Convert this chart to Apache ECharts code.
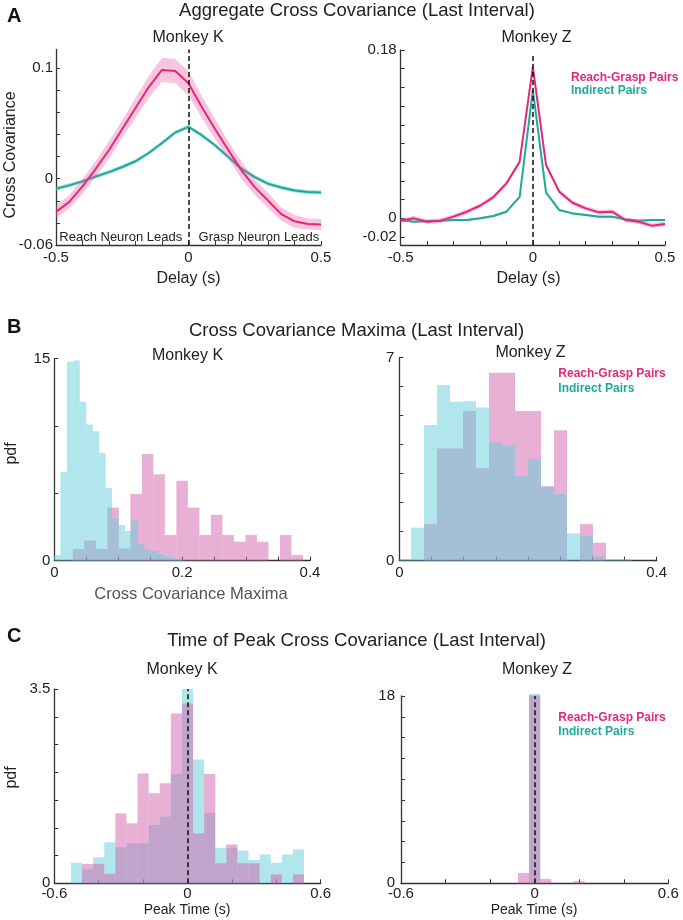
<!DOCTYPE html>
<html><head><meta charset="utf-8">
<script src="https://cdn.jsdelivr.net/npm/echarts@6/dist/echarts.min.js"></script>
<style>html,body{margin:0;padding:0;background:#fff}#c{width:683px;height:920px}</style>
</head><body><div id="c"></div><script>
// ---------- DATA ----------
// Panel A: aggregate cross covariance vs delay (s)
const delay = [-0.5,-0.45,-0.4,-0.35,-0.3,-0.25,-0.2,-0.15,-0.1,-0.05,0,0.05,0.1,0.15,0.2,0.25,0.3,0.35,0.4,0.45,0.5];
const kReachGrasp = [-0.030,-0.021,-0.007,0.009,0.026,0.045,0.064,0.083,0.0985,0.0975,0.0864,0.065,0.045,0.026,0.0076,-0.0076,-0.0197,-0.032,-0.0385,-0.041,-0.0415];
const kReachGraspErr = [0.006,0.006,0.007,0.007,0.008,0.008,0.009,0.010,0.011,0.011,0.011,0.010,0.009,0.008,0.008,0.007,0.007,0.006,0.006,0.005,0.005];
const kIndirect = [-0.009,-0.006,-0.0024,0.002,0.006,0.0106,0.0158,0.0233,0.0324,0.0418,0.047,0.0394,0.0303,0.0197,0.0091,0.0015,-0.0045,-0.008,-0.0106,-0.012,-0.0124];
const kIndirectErr = [0.0018,0.0018,0.0018,0.0018,0.0018,0.0018,0.0018,0.0018,0.0018,0.0018,0.0018,0.0018,0.0018,0.0018,0.0018,0.0018,0.0018,0.0018,0.0018,0.0018,0.0018];
const zReachGrasp = [-0.0025,0,-0.0036,-0.0025,0.0018,0.0071,0.0135,0.0225,0.0374,0.0606,0.162,0.057,0.0285,0.0167,0.0107,0.0064,0.0071,-0.0018,-0.0036,-0.0078,-0.006];
const zReachGraspErr = [0.0025,0.0025,0.0025,0.0025,0.0025,0.0025,0.0025,0.0025,0.0025,0.0025,0.0025,0.0025,0.0025,0.0025,0.0025,0.0025,0.0025,0.0025,0.0025,0.0025,0.0025];
const zIndirect = [-0.0018,-0.0036,-0.003,-0.0025,-0.0018,-0.0018,0,0.0025,0.0071,0.023,0.137,0.0274,0.0089,0.0053,0.0036,0.0018,0.0018,-0.001,-0.0025,-0.0018,-0.0018];
const zIndirectErr = [0.0012,0.0012,0.0012,0.0012,0.0012,0.0012,0.0012,0.0012,0.0012,0.0012,0.0012,0.0012,0.0012,0.0012,0.0012,0.0012,0.0012,0.0012,0.0012,0.0012,0.0012];

// Panel B: cross covariance maxima histograms (pdf)
const maxEdgesKIndirect = [-0.0005,0.0096,0.0197,0.0298,0.0399,0.05,0.0601,0.0702,0.0803,0.0904,0.1005,0.1106,0.1207,0.1308,0.1409,0.151,0.1611,0.1712,0.1813,0.1914,0.2015];
const maxKIndirect = [0.42,6.57,14.75,14.85,11.8,10.1,9.6,8.0,5.4,3.15,2.65,2.2,3.0,1.25,0.85,0.7,0.5,0.35,0.2,0.1];
const maxEdgesKReach = [0.029,0.047,0.065,0.083,0.101,0.119,0.137,0.155,0.173,0.191,0.209,0.227,0.245,0.263,0.281,0.299,0.317,0.335,0.353,0.371,0.389];
const maxKReach = [0.87,1.5,0.87,3.94,0.9,4.94,7.91,6.42,1.91,5.93,3.94,1.91,3.4,1.91,1.41,1.91,1.41,0,1.91,0.42];
const maxEdgesZ = [-0.002,0.0182,0.0384,0.0586,0.0788,0.099,0.1192,0.1394,0.1596,0.1798,0.2,0.2202,0.2404,0.2606,0.2808,0.301,0.3212,0.3414,0.3616];
const maxZIndirect = [0.05,1.14,4.68,6.06,5.48,5.5,5.28,4.08,3.97,2.92,3.5,2.55,2.3,0.94,0.85,0.14,0.05,0.05];
const maxZReach = [0,0,1.26,3.87,3.87,5.16,3.2,6.48,6.48,5.16,5.16,2.57,4.5,0,1.26,0.62,0,0];

// Panel C: time of peak cross covariance histograms (pdf)
const peakEdges = [-0.525,-0.475,-0.425,-0.375,-0.325,-0.275,-0.225,-0.175,-0.125,-0.075,-0.025,0.025,0.075,0.125,0.175,0.225,0.275,0.325,0.375,0.425,0.475,0.525];
const peakKIndirect = [0.37,0.25,0.47,0.74,0.65,0.72,0.72,1.05,1.2,1.97,3.5,2.23,1.27,0.64,0.64,0.59,0.42,0.52,0.37,0.52,0.61];
const peakKReach = [0,0.35,0.35,0.17,1.26,1.08,1.98,1.62,1.8,3.06,3.24,0.9,1.97,0.36,0.7,0.36,0.36,0,0.16,0,0.16];
const peakZIndirect = [0,0,0,0,0,0,0,0,0,0,18.2,0,0,0,0,0,0,0,0,0,0];
const peakZReach = [0,0,0,0,0,0,0,0,0,1.0,18.05,0.42,0,0,0.2,0,0,0,0,0,0];

// Tick values
const ticksDelay = [-0.5,-0.4,-0.3,-0.2,-0.1,0,0.1,0.2,0.3,0.4,0.5];
const labelsDelay = [-0.5,0,0.5];
const ticksAK = [-0.06,-0.04,-0.02,0,0.02,0.04,0.06,0.08,0.1];
const labelsAK = [-0.06,0,0.1];
const ticksAZ = [-0.02,0,0.02,0.04,0.06,0.08,0.1,0.12,0.14,0.16,0.18];
const labelsAZ = [-0.02,0,0.18];
const ticksMax = [0,0.05,0.1,0.15,0.2,0.25,0.3,0.35,0.4];
const labelsMaxK = [0,0.2,0.4];
const labelsMaxZ = [0,0.4];
const ticksBK = [0,5,10,15]; const labelsBK = [0,15];
const ticksBZ = [0,1,2,3,4,5,6,7]; const labelsBZ = [0,7];
const ticksPeak = [-0.6,-0.4,-0.2,0,0.2,0.4,0.6];
const labelsPeak = [-0.6,0,0.6];
const ticksCK = [0,0.5,1,1.5,2,2.5,3,3.5]; const labelsCK = [0,3.5];
const ticksCZ = [0,2,4,6,8,10,12,14,16,18]; const labelsCZ = [0,18];

// ---------- STYLE ----------
const FONT = '"Liberation Sans", Arial, Helvetica, sans-serif';
const AX = '#333';
const PINK = '#e2287a', TEAL = '#1ea89e';
const PINK_BAND = 'rgba(236,95,165,0.36)', TEAL_BAND = 'rgba(60,190,180,0.45)';
const HIST_CYAN = 'rgba(97,205,217,0.5)', HIST_PINK = 'rgba(209,97,169,0.5)';

function pairs(xs, ys){ return xs.map((x,i)=>[x, ys[i]]); }
function histData(edges, h){ return h.map((v,i)=>[edges[i], edges[i+1], v]); }
function rectRender(color){
  return function(params, api){
    const h = api.value(2); if (!h) return null;
    const p0 = api.coord([api.value(0), 0]);
    const p1 = api.coord([api.value(1), h]);
    return {type:'rect', shape:{x:p0[0], y:p1[1], width:p1[0]-p0[0], height:p0[1]-p1[1]}, style:{fill:color}};
  };
}
function bandRender(xs, mid, err, color){
  return function(params, api){
    if (params.dataIndex !== 0) return null;
    const pts = [];
    for (let i=0;i<xs.length;i++) pts.push(api.coord([xs[i], mid[i]+err[i]]));
    for (let i=xs.length-1;i>=0;i--) pts.push(api.coord([xs[i], mid[i]-err[i]]));
    return {type:'polygon', shape:{points:pts}, style:{fill:color}};
  };
}
function axis(gi, min, max, ticks, labels, margin){
  return {type:'value', gridIndex:gi, min, max,
    axisLine:{show:true, onZero:false, lineStyle:{color:AX, width:1.3}},
    axisTick:{show:true, inside:true, length:4, customValues:ticks, lineStyle:{color:AX, width:1}},
    axisLabel:{show:true, customValues:labels, margin, fontSize:15, color:'#222', fontFamily:FONT, formatter:v=>String(v)},
    splitLine:{show:false}};
}
function T(text, x, y, size, o){
  o = o || {};
  return {type:'text', x, y, rotation:o.rot||0, silent:true, z:100,
    style:{text, fontSize:size, fontFamily:FONT, fontWeight:o.bold?'bold':'normal', fill:o.color||'#222',
      align:o.align||'center', verticalAlign:'middle'}};
}
const dashed = {symbol:'none', silent:true, label:{show:false}, lineStyle:{type:[5,3], color:'#111', width:1.5}};

const grids = [
  {left:56, top:49.5, width:265, height:195.5},
  {left:400.7, top:50, width:264.3, height:195},
  {left:54.3, top:358.5, width:255.7, height:202.2},
  {left:399.3, top:357.7, width:257.4, height:203},
  {left:54.3, top:689, width:266.4, height:194.3},
  {left:401, top:696, width:267.3, height:187.3}
];

const option = {
  animation:false,
  backgroundColor:'#fff',
  grid: grids,
  xAxis: [
    axis(0,-0.5,0.5,ticksDelay,labelsDelay,5),
    axis(1,-0.5,0.5,ticksDelay,labelsDelay,5),
    axis(2,0,0.4,ticksMax,labelsMaxK,5),
    axis(3,0,0.4,ticksMax,labelsMaxZ,5),
    axis(4,-0.6,0.6,ticksPeak,labelsPeak,3),
    axis(5,-0.6,0.6,ticksPeak,labelsPeak,3)
  ],
  yAxis: [
    axis(0,-0.06,0.117,ticksAK,labelsAK,3),
    axis(1,-0.0285,0.18,ticksAZ,labelsAZ,4),
    axis(2,0,15,ticksBK,labelsBK,4),
    axis(3,0,7,ticksBZ,labelsBZ,5),
    axis(4,0,3.5,ticksCK,labelsCK,4),
    axis(5,0,18,ticksCZ,labelsCZ,6)
  ],
  series: [
    // A - Monkey K
    {type:'custom', xAxisIndex:0, yAxisIndex:0, data:pairs(delay,kIndirect), encode:{x:0,y:1}, renderItem:bandRender(delay,kIndirect,kIndirectErr,TEAL_BAND), silent:true, z:1},
    {type:'line', xAxisIndex:0, yAxisIndex:0, data:pairs(delay,kIndirect), symbol:'none', lineStyle:{color:TEAL,width:2}, silent:true, z:2},
    {type:'custom', xAxisIndex:0, yAxisIndex:0, data:pairs(delay,kReachGrasp), encode:{x:0,y:1}, renderItem:bandRender(delay,kReachGrasp,kReachGraspErr,PINK_BAND), silent:true, z:3},
    {type:'line', xAxisIndex:0, yAxisIndex:0, data:pairs(delay,kReachGrasp), symbol:'none', lineStyle:{color:PINK,width:2}, silent:true, z:4,
      markLine:Object.assign({}, dashed, {data:[{xAxis:0}]})},
    // A - Monkey Z
    {type:'custom', xAxisIndex:1, yAxisIndex:1, data:pairs(delay,zIndirect), encode:{x:0,y:1}, renderItem:bandRender(delay,zIndirect,zIndirectErr,TEAL_BAND), silent:true, z:1},
    {type:'line', xAxisIndex:1, yAxisIndex:1, data:pairs(delay,zIndirect), symbol:'none', lineStyle:{color:TEAL,width:2}, silent:true, z:2},
    {type:'custom', xAxisIndex:1, yAxisIndex:1, data:pairs(delay,zReachGrasp), encode:{x:0,y:1}, renderItem:bandRender(delay,zReachGrasp,zReachGraspErr,PINK_BAND), silent:true, z:3},
    {type:'line', xAxisIndex:1, yAxisIndex:1, data:pairs(delay,zReachGrasp), symbol:'none', lineStyle:{color:PINK,width:2}, silent:true, z:4,
      markLine:Object.assign({}, dashed, {data:[[{coord:[0,-0.0285]},{coord:[0,0.176]}]]})},
    // B - Monkey K (pink drawn first, cyan over it)
    {type:'custom', xAxisIndex:2, yAxisIndex:2, data:histData(maxEdgesKReach,maxKReach), encode:{x:[0,1],y:2}, renderItem:rectRender(HIST_PINK), silent:true, z:1},
    {type:'custom', xAxisIndex:2, yAxisIndex:2, data:histData(maxEdgesKIndirect,maxKIndirect), encode:{x:[0,1],y:2}, renderItem:rectRender(HIST_CYAN), silent:true, z:2},
    // B - Monkey Z
    {type:'custom', xAxisIndex:3, yAxisIndex:3, data:histData(maxEdgesZ,maxZReach), encode:{x:[0,1],y:2}, renderItem:rectRender(HIST_PINK), silent:true, z:1},
    {type:'custom', xAxisIndex:3, yAxisIndex:3, data:histData(maxEdgesZ,maxZIndirect), encode:{x:[0,1],y:2}, renderItem:rectRender(HIST_CYAN), silent:true, z:2},
    // C - Monkey K (cyan first, pink over it)
    {type:'custom', xAxisIndex:4, yAxisIndex:4, data:histData(peakEdges,peakKIndirect), encode:{x:[0,1],y:2}, renderItem:rectRender(HIST_CYAN), silent:true, z:1},
    {type:'custom', xAxisIndex:4, yAxisIndex:4, data:histData(peakEdges,peakKReach), encode:{x:[0,1],y:2}, renderItem:rectRender(HIST_PINK), silent:true, z:2,
      markLine:Object.assign({}, dashed, {data:[{xAxis:0}]})},
    // C - Monkey Z
    {type:'custom', xAxisIndex:5, yAxisIndex:5, data:histData(peakEdges,peakZIndirect), encode:{x:[0,1],y:2}, renderItem:rectRender(HIST_CYAN), silent:true, z:1},
    {type:'custom', xAxisIndex:5, yAxisIndex:5, data:histData(peakEdges,peakZReach), encode:{x:[0,1],y:2}, renderItem:rectRender(HIST_PINK), silent:true, z:2,
      markLine:Object.assign({}, dashed, {data:[{xAxis:0}]})}
  ],
  graphic: [
    T('A', 7, 16, 20, {bold:true, align:'left', color:'#111'}),
    T('B', 7, 327, 20, {bold:true, align:'left', color:'#111'}),
    T('C', 7, 636, 20, {bold:true, align:'left', color:'#111'}),
    T('Aggregate Cross Covariance (Last Interval)', 357, 11, 18.5),
    T('Cross Covariance Maxima (Last Interval)', 356.5, 330.5, 18.5),
    T('Time of Peak Cross Covariance (Last Interval)', 356.5, 641, 18.5),
    T('Monkey K', 188, 38, 16), T('Monkey Z', 536.5, 38, 16),
    T('Monkey K', 187.5, 355.5, 16), T('Monkey Z', 530.5, 353, 16),
    T('Monkey K', 182, 670, 16), T('Monkey Z', 537, 670, 16),
    T('Delay (s)', 188.5, 279, 16), T('Delay (s)', 528.5, 279, 16),
    T('Cross Covariance', 10.5, 155, 16, {rot:Math.PI/2}),
    T('pdf', 12, 453.5, 16, {rot:Math.PI/2}),
    T('pdf', 12, 777.5, 16, {rot:Math.PI/2}),
    T('Cross Covariance Maxima', 191, 594, 16.5, {color:'#555'}),
    T('Peak Time (s)', 187, 910, 14), T('Peak Time (s)', 534, 910, 14),
    T('Reach Neuron Leads', 59.3, 237, 13, {align:'left'}),
    T('Grasp Neuron Leads', 319.3, 237, 13, {align:'right'}),
    T('Reach-Grasp Pairs', 571, 77.5, 12, {bold:true, align:'left', color:PINK}),
    T('Indirect Pairs', 571, 91, 12, {bold:true, align:'left', color:TEAL}),
    T('Reach-Grasp Pairs', 558.3, 374, 12, {bold:true, align:'left', color:PINK}),
    T('Indirect Pairs', 558.3, 388.5, 12, {bold:true, align:'left', color:TEAL}),
    T('Reach-Grasp Pairs', 558.3, 718, 12, {bold:true, align:'left', color:PINK}),
    T('Indirect Pairs', 558.3, 732, 12, {bold:true, align:'left', color:TEAL})
  ]
};
const chart = echarts.init(document.getElementById('c'), null, {renderer:'canvas', width:683, height:920});
chart.setOption(option);
</script></body></html>
